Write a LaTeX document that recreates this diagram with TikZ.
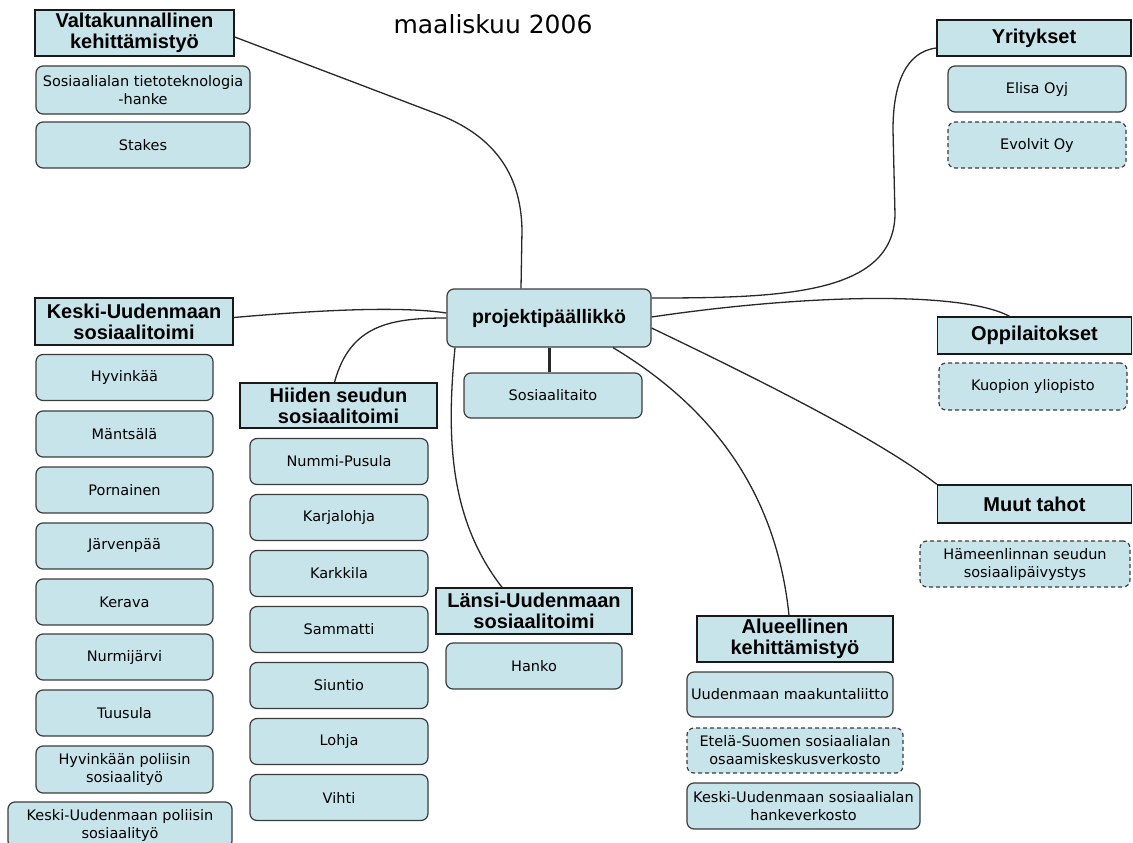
\documentclass[tikz,border=0pt]{standalone}
\usepackage{fontspec}
\setmainfont{DejaVu Sans}
\newfontfamily\hdrfam{Liberation Sans}
\newfontfamily\itmfam{DejaVu Sans}
\definecolor{boxblue}{RGB}{200,228,235}
\definecolor{itemborder}{RGB}{60,60,60}
\definecolor{hdrborder}{RGB}{25,25,25}
\definecolor{linecol}{RGB}{40,40,40}
\tikzset{
  hdr/.style={rectangle, draw=hdrborder, line width=1.4pt, fill=boxblue, align=center, inner sep=0pt,
    font=\hdrfam\bfseries\fontsize{20}{21}\selectfont},
  itm/.style={rectangle, rounded corners=7pt, draw=itemborder, line width=1.2pt, fill=boxblue, align=center, inner sep=0pt,
    font=\itmfam\fontsize{14.5}{18}\selectfont},
  dsh/.style={itm, dash pattern=on 4pt off 3pt},
  conn/.style={draw=linecol, line width=1.3pt},
  lcol/.style={itm, minimum width=177pt, minimum height=46pt},
  hcol/.style={itm, minimum width=178pt, minimum height=46pt}
}
\begin{document}
\begin{tikzpicture}[x=1pt,y=-1pt]
\useasboundingbox (0,0) rectangle (1133,843);
\fill[white] (0,0) rectangle (1133,843);

\node[font=\itmfam\fontsize{25}{28}\selectfont] (title) at (493,24) {maaliskuu 2006};

% top left
\node[hdr, minimum width=199pt, minimum height=46pt] (valt) at (134.5,33) {Valtakunnallinen\\kehittämistyö};
\node[itm, minimum width=214pt, minimum height=48pt] (sostt) at (143,90) {Sosiaalialan tietoteknologia\\-hanke};
\node[itm, minimum width=214pt, minimum height=46pt] (stakes) at (143,145) {Stakes};

% top right
\node[hdr, minimum width=194pt, minimum height=36pt] (yrit) at (1034,38) {Yritykset};
\node[itm, minimum width=178pt, minimum height=46pt] (elisa) at (1037,89) {Elisa Oyj};
\node[dsh, minimum width=178pt, minimum height=46pt] (evolvit) at (1037,145) {Evolvit Oy};

% centre
\node[itm, minimum width=204pt, minimum height=58pt, font=\hdrfam\bfseries\fontsize{19.5}{21}\selectfont] (pp) at (549,318) {projektipäällikkö};
\node[itm, minimum width=178pt, minimum height=45pt] (sostaito) at (553,395.5) {Sosiaalitaito};

% left column
\node[hdr, minimum width=198pt, minimum height=47pt] (keski) at (134,321.5) {Keski-Uudenmaan\\sosiaalitoimi};
\node[lcol] (hyv) at (124.5,377.5) {Hyvinkää};
\node[lcol] (mants) at (124.5,434) {Mäntsälä};
\node[lcol] (porn) at (124.5,490) {Pornainen};
\node[lcol] (jarv) at (124.5,546) {Järvenpää};
\node[lcol] (kerava) at (124.5,602) {Kerava};
\node[lcol] (nurmi) at (124.5,657) {Nurmijärvi};
\node[lcol] (tuus) at (124.5,713) {Tuusula};
\node[lcol, minimum height=47pt] (hyvpol) at (124.5,769.5) {Hyvinkään poliisin\\sosiaalityö};
\node[itm, minimum width=224pt, minimum height=46pt] (kespol) at (120,825) {Keski-Uudenmaan poliisin\\sosiaalityö};

% middle column
\node[hdr, minimum width=197pt, minimum height=45pt] (hiiden) at (338.5,405.5) {Hiiden seudun\\sosiaalitoimi};
\node[hcol] (nummi) at (339,461.5) {Nummi-Pusula};
\node[hcol] (karja) at (339,517.5) {Karjalohja};
\node[hcol] (karkk) at (339,573.5) {Karkkila};
\node[hcol] (samm) at (339,629.5) {Sammatti};
\node[hcol] (siunt) at (339,685.5) {Siuntio};
\node[hcol] (lohja) at (339,741.5) {Lohja};
\node[hcol] (vihti) at (339,797.5) {Vihti};

% Lansi
\node[hdr, minimum width=196pt, minimum height=46pt] (lansi) at (534,611) {Länsi-Uudenmaan\\sosiaalitoimi};
\node[itm, minimum width=176pt, minimum height=46pt] (hanko) at (534,666) {Hanko};

% Alueellinen
\node[hdr, minimum width=196pt, minimum height=46pt] (alue) at (795,639) {Alueellinen\\kehittämistyö};
\node[itm, minimum width=206pt, minimum height=45pt] (uml) at (790,694.5) {Uudenmaan maakuntaliitto};
\node[dsh, minimum width=216pt, minimum height=45pt] (etela) at (795,750.5) {Etelä-Suomen sosiaalialan\\osaamiskeskusverkosto};
\node[itm, minimum width=233pt, minimum height=46pt] (kuhk) at (803.5,806) {Keski-Uudenmaan sosiaalialan\\hankeverkosto};

% right side
\node[hdr, minimum width=194pt, minimum height=37pt] (oppi) at (1034.5,335.5) {Oppilaitokset};
\node[dsh, minimum width=188pt, minimum height=47pt] (kuopio) at (1033,386.5) {Kuopion yliopisto};
\node[hdr, minimum width=194pt, minimum height=38pt] (muut) at (1034.5,504) {Muut tahot};
\node[dsh, minimum width=210pt, minimum height=46pt] (hameen) at (1025,564) {Hämeenlinnan seudun\\sosiaalipäivystys};

% connectors
\draw[conn] ([yshift=-4pt]valt.east) -- (440,115) .. controls (490,135) and (521,170) .. (522,230) -- ([xshift=-28pt]pp.north);
\draw[conn] ([yshift=-10pt]yrit.west) .. controls (905,52) and (893,85) .. (893,130) -- (895,215) .. controls (893,295) and (780,298) .. ([yshift=20pt]pp.east);
\draw[conn] ([yshift=1pt]pp.east) .. controls (800,295) and (960,290) .. ([xshift=-25pt]oppi.north);
\draw[conn] ([yshift=-10pt]pp.east) .. controls (760,380) and (880,440) .. (muut.north west);
\draw[conn] ([xshift=64pt]pp.south) .. controls (700,400) and (775,480) .. ([xshift=-6pt]alue.north);
\draw[conn] ([xshift=-94pt]pp.south) .. controls (446,440) and (450,520) .. ([xshift=-32pt]lansi.north);
\draw[conn] ([yshift=4pt]keski.east) .. controls (320,310) and (400,306) .. ([yshift=5pt]pp.west);
\draw[conn] ([xshift=-4pt]hiiden.north) .. controls (350,325) and (390,318) .. (pp.west);
\draw[conn, line width=3pt] (pp.south) -- (pp.south |- sostaito.north);
\end{tikzpicture}
\end{document}
